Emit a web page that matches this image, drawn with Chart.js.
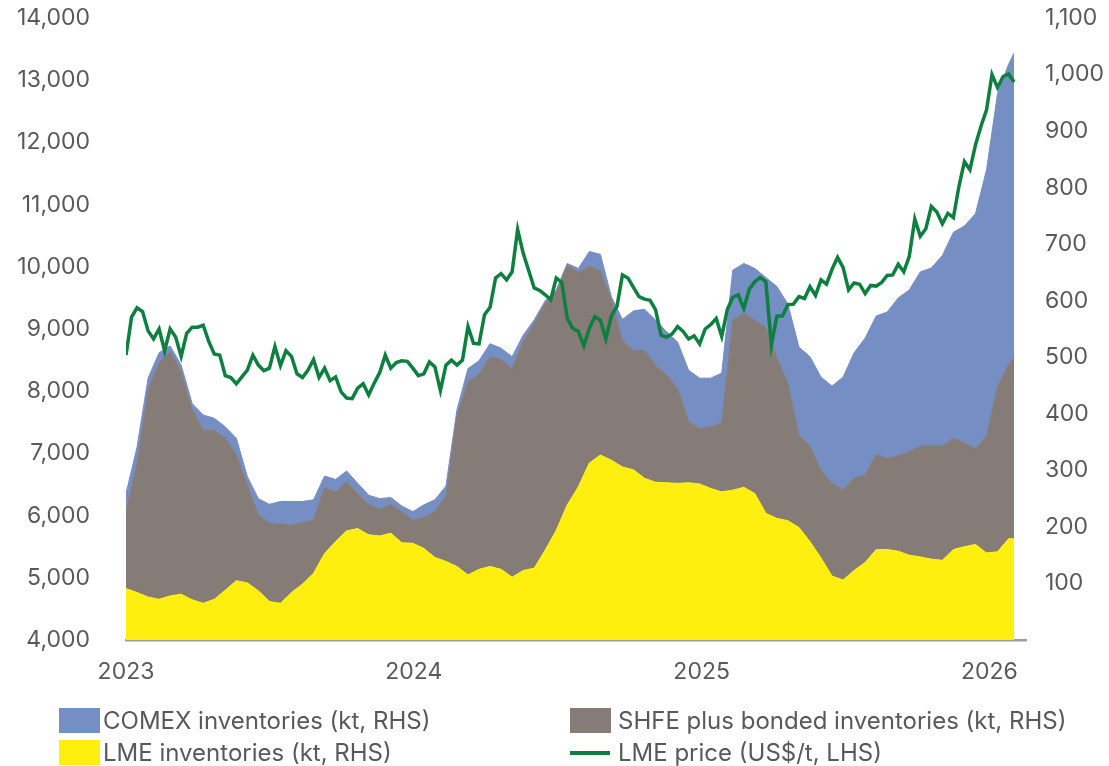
<!DOCTYPE html>
<html>
<head>
<meta charset="utf-8">
<script src="https://cdn.jsdelivr.net/npm/chart.js@4.4.1/dist/chart.umd.min.js"></script>
<style>
  body { margin: 0; background: #fff; }
  #wrap { position: relative; width: 1109px; height: 766px; font-family: Inter, sans-serif; color: #595959; }
  #wrap canvas { position: absolute; left: 0; top: 0; }
  .key { position: absolute; font-size: 24px; line-height: 26px; white-space: nowrap; }
  .swatch { position: absolute; width: 41px; height: 25px; }
  .dash { position: absolute; width: 40px; height: 4px; }
</style>
</head>
<body>
<div id="wrap">
  <canvas id="copper-chart" width="1109" height="766"></canvas>
  <div class="swatch" style="left:59px;top:708px;background:#758ec3"></div>
  <div class="key" style="left:103px;top:708px">COMEX inventories (kt, RHS)</div>
  <div class="swatch" style="left:570px;top:708px;background:#857b77"></div>
  <div class="key" style="left:618px;top:708px">SHFE plus bonded inventories (kt, RHS)</div>
  <div class="swatch" style="left:59px;top:740px;background:#ffef0f"></div>
  <div class="key" style="left:103px;top:740px">LME inventories (kt, RHS)</div>
  <div class="dash" style="left:570px;top:751px;background:#0d7f3f"></div>
  <div class="key" style="left:618px;top:740px">LME price (US$/t, LHS)</div>
</div>
<script>
// weekly LME copper price, US$/t, first week of Jan 2023 onwards
const lmePrice = [
  8580, 9190, 9340, 9280, 8970, 8840, 9000, 8650, 9000, 8870,
  8560, 8930, 9030, 9030, 9060, 8800, 8600, 8580, 8250, 8220,
  8120, 8230, 8340, 8580, 8420, 8330, 8370, 8720, 8410, 8650,
  8560, 8280, 8220, 8340, 8510, 8220, 8370, 8170, 8230, 7990,
  7890, 7880, 8050, 8120, 7940, 8130, 8300, 8580, 8370, 8460,
  8490, 8480, 8370, 8250, 8280, 8470, 8390, 8010, 8420, 8500,
  8420, 8500, 9040, 8770, 8760, 9230, 9350, 9820, 9890, 9790,
  9920, 10600, 10220, 9940, 9660, 9620, 9550, 9470, 9820, 9750,
  9170, 9010, 8960, 8730, 9010, 9200, 9140, 8840, 9210, 9360,
  9870, 9820, 9670, 9520, 9480, 9460, 9310, 8900, 8870, 8920,
  9040, 8960, 8840, 8890, 8760, 9000, 9070, 9170, 8880, 9310,
  9510, 9550, 9330, 9640, 9760, 9830, 9760, 8740, 9210, 9210,
  9390, 9400, 9520, 9490, 9680, 9540, 9790, 9720, 9960, 10150,
  9990, 9630, 9740, 9720, 9570, 9700, 9690, 9750, 9860, 9870,
  10040, 9920, 10170, 10770, 10490, 10610, 10970, 10880, 10690, 10860,
  10790, 11290, 11690, 11560, 11960, 12260, 12520, 13090, 12880, 13060,
  13100, 12970
];

// fortnightly exchange stocks, kt (last entry is the latest week)
const lmeStocks = [
  91, 84, 76, 72, 78, 81, 71, 65, 72, 88,
  105, 101, 87, 68, 65, 84, 99, 118, 153, 174,
  193, 197, 186, 184, 189, 172, 171, 162, 146, 139,
  130, 115, 125, 130, 125, 111, 123, 127, 159, 194,
  239, 271, 313, 327, 318, 306, 301, 286, 279, 278,
  277, 278, 276, 268, 262, 265, 270, 259, 224, 215,
  211, 199, 174, 145, 113, 106, 123, 137, 160, 160,
  157, 150, 147, 143, 141, 160, 165, 169, 154, 156,
  179, 179
];
const shfeStocks = [
  136, 228, 366, 418, 432, 393, 336, 306, 299, 269,
  222, 173, 134, 139, 140, 119, 109, 94, 117, 88,
  87, 62, 54, 47, 51, 55, 41, 55, 81, 116,
  265, 342, 345, 371, 371, 369, 404, 433, 436, 422,
  424, 379, 348, 326, 283, 224, 211, 226, 207, 190,
  168, 108, 98, 109, 122, 301, 308, 307, 329, 284,
  242, 163, 169, 155, 164, 160, 163, 155, 168, 161,
  169, 183, 196, 200, 202, 197, 183, 169, 206, 293,
  308, 321
];
const comexStocks = [
  32, 29, 21, 18, 10, 12, 11, 27, 21, 20,
  30, 15, 29, 33, 40, 42, 37, 36, 20, 22,
  19, 18, 16, 19, 12, 10, 15, 22, 21, 17,
  12, 23, 24, 23, 20, 21, 12, 6, 5, 3,
  3, 7, 26, 29, 6, 37, 70, 73, 80, 77,
  82, 91, 89, 86, 88, 88, 88, 91, 88, 126,
  141, 156, 158, 165, 172, 199, 222, 242, 245, 259,
  279, 286, 308, 315, 337, 364, 384, 416, 471, 517,
  531, 538
];

const yearTicks = [2023, 2024, 2025, 2026];
const startYear = 2023;
const weekYears = 7 / 365.25;

// price is weekly, stocks every second week plus the final week
const priceWeeks = lmePrice.map((_, i) => i);
const stockWeeks = lmeStocks.map((_, i) => (i === lmeStocks.length - 1 ? 161 : i * 2));

const toPoints = (weeks, values) => values.map((v, i) => ({ x: startYear + weeks[i] * weekYears, y: v }));

Chart.defaults.font.family = 'Inter, sans-serif';
Chart.defaults.font.size = 23;
Chart.defaults.color = '#595959';

const areaStyle = (color) => ({
  backgroundColor: color,
  borderColor: color,
  borderWidth: 1,
  pointRadius: 0,
  tension: 0,
  yAxisID: 'y1'
});

// fixed axis sizes; tick padding shouldn't push the plot down
const fixWidth = (w) => (scale) => {
  scale.width = w;
  scale.paddingTop = 12;
  scale.paddingBottom = 12;
};

new Chart(document.getElementById('copper-chart'), {
  type: 'line',
  data: {
    datasets: [
      {
        label: 'LME price (US$/t, LHS)',
        data: toPoints(priceWeeks, lmePrice),
        borderColor: '#0d7f3f',
        borderWidth: 3.5,
        pointRadius: 0,
        tension: 0,
        fill: false,
        yAxisID: 'y',
        order: 0
      },
      Object.assign(areaStyle('#ffef0f'), {
        label: 'LME inventories (kt, RHS)',
        data: toPoints(stockWeeks, lmeStocks),
        fill: 'origin',
        order: 1
      }),
      Object.assign(areaStyle('#857b77'), {
        label: 'SHFE plus bonded inventories (kt, RHS)',
        data: toPoints(stockWeeks, shfeStocks),
        fill: '-1',
        order: 2
      }),
      Object.assign(areaStyle('#758ec3'), {
        label: 'COMEX inventories (kt, RHS)',
        data: toPoints(stockWeeks, comexStocks),
        fill: '-1',
        order: 3
      })
    ]
  },
  options: {
    responsive: false,
    animation: false,
    layout: { padding: { top: 18, bottom: 0, left: 0, right: 0 } },
    plugins: { legend: { display: false }, tooltip: { enabled: false } },
    scales: {
      x: {
        type: 'linear',
        min: yearTicks[0],
        max: 2026.127,
        grid: { display: false, drawTicks: false },
        border: { display: true, color: '#9d9d9d', width: 2.5 },
        afterBuildTicks: (scale) => { scale.ticks = yearTicks.map(v => ({ value: v })); },
        ticks: {
          padding: 18,
          maxRotation: 0,
          autoSkip: false,
          callback: (v) => String(v)
        },
        afterFit: (scale) => { scale.height = 126; }
      },
      y: {
        position: 'left',
        min: 4000,
        max: 14000,
        grid: { display: false, drawTicks: false },
        border: { display: false },
        ticks: { stepSize: 1000, padding: 36, callback: (v) => v.toLocaleString('en-US') },
        afterFit: fixWidth(126)
      },
      y1: {
        position: 'right',
        stacked: true,
        min: 0,
        max: 1100,
        grid: { display: false, drawTicks: false },
        border: { display: false },
        ticks: { stepSize: 100, padding: 19, callback: (v) => (v === 0 ? '' : v.toLocaleString('en-US')) },
        afterFit: fixWidth(83)
      }
    }
  }
});
</script>
</body>
</html>
